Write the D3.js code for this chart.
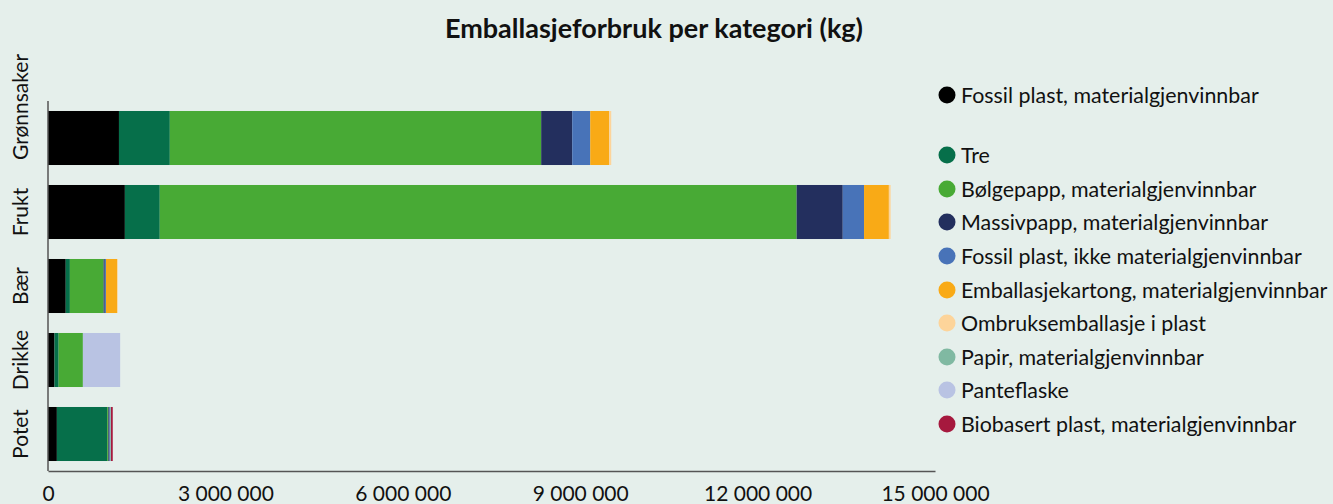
<!DOCTYPE html>
<html>
<head>
<meta charset="utf-8">
<script src="https://cdn.jsdelivr.net/npm/d3@7"></script>
<style>
  body { margin: 0; background: #e5efeb; }
  svg { display: block; font-family: Lato, "Open Sans", sans-serif; }
  .axis path { stroke: #555; stroke-width: 1.5; }
  .axis line { display: none; }
  .axis text { fill: #111; font-size: 21px; font-family: Lato, sans-serif; }
</style>
</head>
<body>
<div id="chart"></div>
<script>
(function(){
  'use strict';

  var categories = ['Grønnsaker', 'Frukt', 'Bær', 'Drikke', 'Potet'];

  var seriesNames = [
    'Fossil plast, materialgjenvinnbar',
    'Tre',
    'Bølgepapp, materialgjenvinnbar',
    'Massivpapp, materialgjenvinnbar',
    'Fossil plast, ikke materialgjenvinnbar',
    'Emballasjekartong, materialgjenvinnbar',
    'Ombruksemballasje i plast',
    'Papir, materialgjenvinnbar',
    'Panteflaske',
    'Biobasert plast, materialgjenvinnbar'
  ];

  // kg per kategori, same order as categories
  var fossilPlast   = [1200000, 1300000, 300000, 110000, 150000];
  var tre           = [860000, 590000, 70000, 70000, 850000];
  var bolgepapp     = [6280000, 10770000, 570000, 410000, 20000];
  var massivpapp    = [525000, 780000, 20000, 0, 20000];
  var fossilIkke    = [305000, 360000, 20000, 0, 15000];
  var kartong       = [320000, 420000, 190000, 0, 0];
  var ombruk        = [35000, 30000, 10000, 0, 0];
  var papir         = [0, 0, 0, 0, 10000];
  var panteflaske   = [0, 0, 0, 630000, 0];
  var biobasert     = [0, 0, 0, 0, 30000];

  var seriesValues = [fossilPlast, tre, bolgepapp, massivpapp, fossilIkke,
                      kartong, ombruk, papir, panteflaske, biobasert];

  var colors = ['#000000', '#066f4a', '#48aa35', '#232f5e', '#4873b8',
                '#f9aa16', '#fdd49a', '#80b9a2', '#b9c3e3', '#a6193e'];

  var xTicks = [0, 3000000, 6000000, 9000000, 12000000, 15000000];

  var w = 1333,
      h = 504;

  var rows = categories.map(function(c, i) {
    var r = {cat: c};
    seriesNames.forEach(function(s, j) { r[s] = seriesValues[j][i]; });
    return r;
  });

  var stack = d3.stack().keys(seriesNames)(rows);

  var svg = d3.select('#chart').append('svg')
    .attr('width', w)
    .attr('height', h);

  svg.append('rect').attr('width', w).attr('height', h).attr('fill', '#e5efeb');

  var x = d3.scaleLinear()
    .domain([0, 15000000])
    .range([48, 935]);

  var y = d3.scaleBand()
    .domain(categories)
    .range([101, 471])
    .paddingInner(0.27)
    .paddingOuter(0.135);

  svg.append('text')
    .attr('x', 654)
    .attr('y', 38)
    .attr('text-anchor', 'middle')
    .style('font-size', '27px')
    .style('font-weight', 'bold')
    .style('fill', '#111')
    .text('Emballasjeforbruk per kategori (kg)');

  var layers = svg.selectAll('.layer')
    .data(stack)
    .enter()
    .append('g')
    .attr('class', 'layer')
    .style('fill', function(d, i) { return colors[i]; });

  layers.selectAll('rect')
    .data(function(d) { return d; })
    .enter()
    .append('rect')
    .attr('x', function(d) { return x(d[0]); })
    .attr('y', function(d) { return y(d.data.cat); })
    .attr('height', y.bandwidth())
    .attr('width', function(d) { return x(d[1]) - x(d[0]); });

  var xAxis = d3.axisBottom(x)
    .tickValues(xTicks)
    .tickSize(0)
    .tickPadding(15)
    .tickFormat(function(d) { return d3.format(',')(d).replace(/,/g, ' '); });

  svg.append('g')
    .attr('class', 'x axis')
    .attr('transform', 'translate(0,' + 471 + ')')
    .call(xAxis);

  svg.append('line')
    .attr('x1', 48).attr('x2', 48)
    .attr('y1', 101).attr('y2', 471)
    .style('stroke', '#555')
    .style('stroke-width', 1.5);

  // y labels, rotated
  var yLab = svg.selectAll('.ylab')
    .data(categories)
    .enter()
    .append('text')
    .attr('class', 'ylab')
    .style('font-size', '21px')
    .style('fill', '#111')
    .text(function(d) { return d; });

  yLab.each(function(d) {
    var len = this.getComputedTextLength(),
        pos = y(d) + y.bandwidth() / 2;
    if (len > y.step()) pos = y(d) + y.bandwidth() - 5 - len / 2;
    d3.select(this)
      .attr('text-anchor', 'middle')
      .attr('transform', 'translate(28,' + pos + ') rotate(-90)');
  });

  // legend (blank slot after first entry)
  var legendY = [95, 155, 189, 222, 256, 290, 323, 357, 390, 424];

  var legend = svg.selectAll('.legend')
    .data(seriesNames)
    .enter()
    .append('g')
    .attr('class', 'legend')
    .attr('transform', function(d, i) { return 'translate(947,' + legendY[i] + ')'; });

  legend.append('circle')
    .attr('r', 8.5)
    .style('fill', function(d, i) { return colors[i]; });

  legend.append('text')
    .attr('x', 14)
    .attr('dy', '0.35em')
    .style('font-size', '21.4px')
    .style('fill', '#111')
    .text(function(d) { return d; });

}());
</script>
</body>
</html>
